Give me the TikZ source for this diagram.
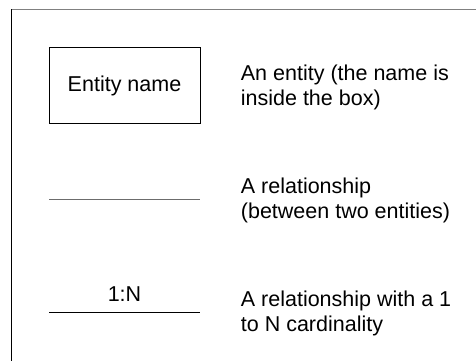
\documentclass[tikz,border=0pt]{standalone}
\usepackage{fontspec}
\setmainfont{Liberation Sans}
\usepackage{tikz}

\begin{document}
\begin{tikzpicture}[x=1pt,y=-1pt,
  entity/.style = {draw,line width=1pt,minimum width=151pt,minimum height=76pt,inner sep=0pt},
  desc/.style = {anchor=base west,align=left,inner sep=0pt,font=\fontsize{21.5}{25}\selectfont},
  lbl/.style = {anchor=base,inner sep=0pt,font=\fontsize{21.5}{25}\selectfont},
  rel/.style = {line width=1pt}]
\useasboundingbox (0,0) rectangle (476,361);
%marco de la hoja (solo lados superior e izquierdo)
\draw[gray,line width=1pt] (11,9.5) -- (476,9.5);
\draw[line width=1pt] (11,9.5) -- (11,361);

\node (E) at (124.5,85.5) [entity,font=\fontsize{21.5}{25}\selectfont] {Entity name};
\node (dE) at (240.7,105) [desc] {An entity (the name is\\inside the box)};

\coordinate (R1a) at (49,199);
\coordinate (R1b) at (200,199);
\draw[rel,gray!85!black] (R1a) -- (R1b);
\node (dR1) at (240.7,218.3) [desc] {A relationship\\(between two entities)};

\coordinate (R2a) at (49,312);
\coordinate (R2b) at (200,312);
\draw[rel] (R2a) -- (R2b);
\node (card) at (124.5,301.7) [lbl] {1:N};
\node (dR2) at (240.7,331) [desc] {A relationship with a 1\\to N cardinality};

\end{tikzpicture}
\end{document}
